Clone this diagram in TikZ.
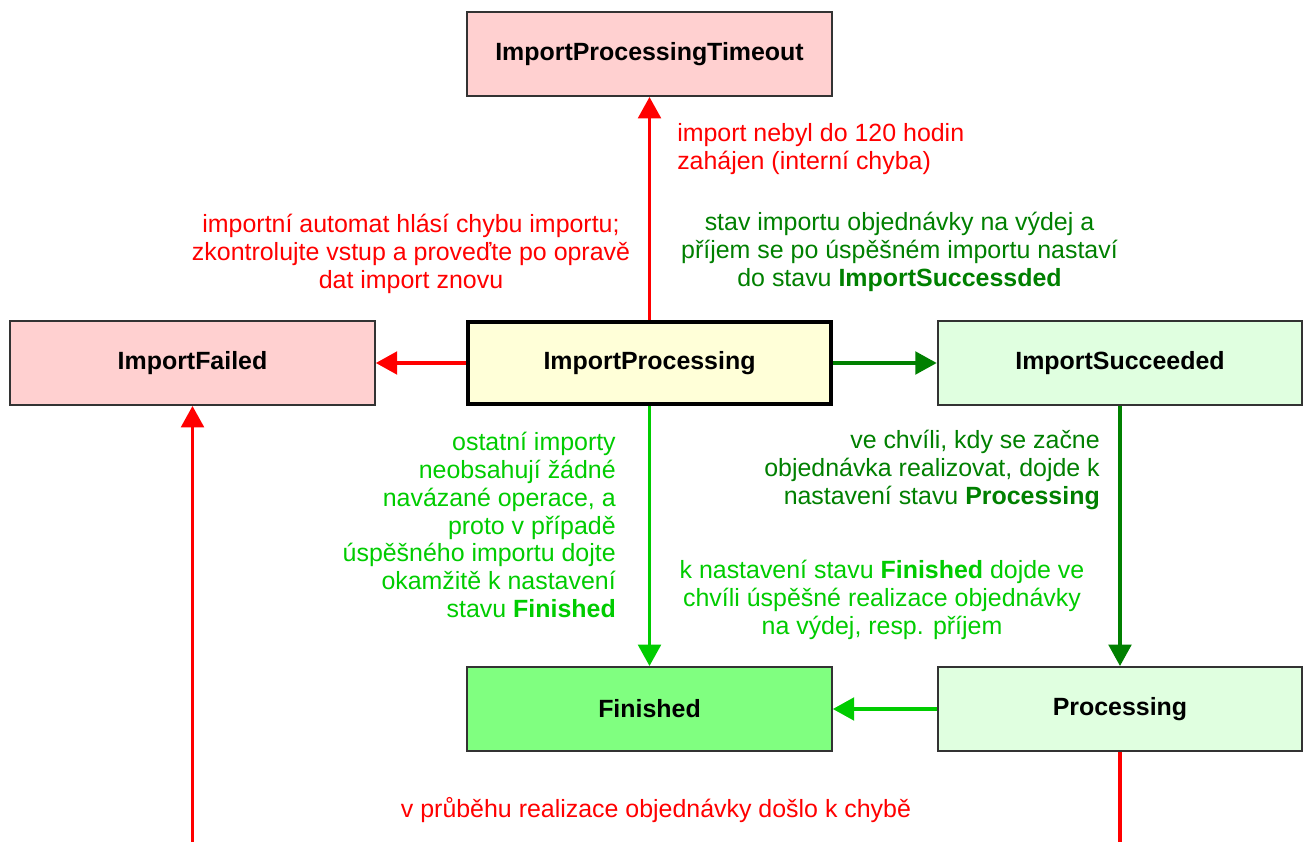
\documentclass[tikz,border=0pt]{standalone}
\usepackage{fontspec}
\setmainfont{Liberation Sans}
\usetikzlibrary{arrows.meta}
\definecolor{cred}{HTML}{FF0000}
\definecolor{dgreen}{HTML}{008000}
\definecolor{bgreen}{HTML}{00CC00}
\definecolor{pinkfill}{HTML}{FFD0D0}
\definecolor{yelfill}{HTML}{FFFFD8}
\definecolor{lgfill}{HTML}{E0FFE0}
\definecolor{finfill}{HTML}{80FF80}
\definecolor{bordercol}{HTML}{333333}
\begin{document}
\begin{tikzpicture}[x=0.75pt,y=-0.75pt,
  state/.style={draw=bordercol, line width=1.5pt, minimum width=273.5pt, minimum height=63pt, inner sep=0pt, font=\fontsize{18.7}{21}\selectfont\bfseries},
  lbl/.style={inner sep=0pt, font=\fontsize{18.7}{20.8}\selectfont},
  conn/.style={line width=2.4pt, -{Triangle[length=16pt,width=17pt]}},
]
\clip (0,0) rectangle (1304,842);
\fill[white] (0,0) rectangle (1304,842);

% states
\node[state, fill=pinkfill] (timeout) at (649.5,54) {ImportProcessingTimeout};
\node[state, fill=pinkfill] (failed) at (192.5,363) {ImportFailed};
\node[state, fill=yelfill, draw=black, line width=3pt, minimum width=272pt, minimum height=61.5pt] (proc) at (649.5,363) {ImportProcessing};
\node[state, fill=lgfill] (succ) at (1120,363) {ImportSucceeded};
\node[state, fill=finfill] (fin) at (649.5,709) {Finished};
\node[state, fill=lgfill] (processing) at (1120,709) {Processing};

% helper coordinates below the visible area
\coordinate (pdown) at (1120,900);
\coordinate (fdown) at (192.5,900);

% connectors
\draw[conn, cred] (proc.north) -- (timeout.south);
\draw[conn, cred] (proc.west) -- (failed.east);
\draw[conn, dgreen] (proc.east) -- (succ.west);
\draw[conn, bgreen] (proc.south) -- (fin.north);
\draw[conn, dgreen] (succ.south) -- (processing.north);
\draw[conn, bgreen] (processing.west) -- (fin.east);
\draw[conn, cred] (processing.south) -- (pdown) -- (fdown) -- (failed.south);

% labels
\node[lbl, cred, align=left, anchor=west] (l1) at (677,149) {import nebyl do 120 hodin\\zahájen (interní chyba)};
\node[lbl, cred, align=center] (l2) at (411,254) {importní automat hlásí chybu importu;\\zkontrolujte vstup a proveďte po opravě\\dat import znovu};
\node[lbl, dgreen, align=center] (l3) at (899.5,252) {stav importu objednávky na výdej a\\příjem se po úspěšném importu nastaví\\do stavu \textbf{ImportSuccessded}};
\node[lbl, bgreen, align=right, anchor=east] (l4) at (616,525) {ostatní importy\\neobsahují žádné\\navázané operace, a\\proto v případě\\úspěšného importu dojte\\okamžitě k nastavení\\stavu \textbf{Finished}};
\node[lbl, dgreen, align=right, anchor=east] (l5) at (1100,470) {ve chvíli, kdy se začne\\objednávka realizovat, dojde k\\nastavení stavu \textbf{Processing}};
\node[lbl, bgreen, align=center] (l6) at (882,600) {k nastavení stavu \textbf{Finished} dojde ve\\chvíli úspěšné realizace objednávky\\na výdej, resp. příjem};
\node[lbl, cred] (l7) at (656,810) {v průběhu realizace objednávky došlo k chybě};
\end{tikzpicture}
\end{document}
